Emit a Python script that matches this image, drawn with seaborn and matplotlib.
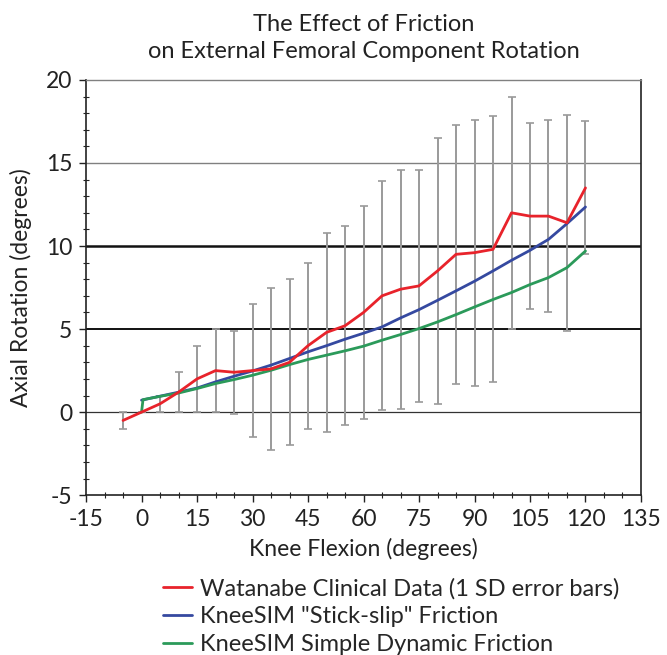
"""Effect of friction on external femoral component rotation (KneeSIM vs clinical)."""

import matplotlib

matplotlib.use("Agg")

import matplotlib.pyplot as plt
import pandas as pd
import seaborn as sns
from matplotlib.ticker import MultipleLocator

# Watanabe clinical data, mean and 1 SD, every 5 degrees of flexion
clinical_flexion = [-5, 0, 5, 10, 15, 20, 25, 30, 35, 40, 45, 50, 55, 60,
                    65, 70, 75, 80, 85, 90, 95, 100, 105, 110, 115, 120]
clinical_rotation = [-0.5, 0.0, 0.5, 1.2, 2.0, 2.5, 2.4, 2.5, 2.6, 3.0, 4.0, 4.8, 5.2, 6.0,
                     7.0, 7.4, 7.6, 8.5, 9.5, 9.6, 9.8, 12.0, 11.8, 11.8, 11.4, 13.5]
clinical_sd = [0.5, 0.0, 0.5, 1.2, 2.0, 2.5, 2.5, 4.0, 4.9, 5.0, 5.0, 6.0, 6.0, 6.4,
               6.9, 7.2, 7.0, 8.0, 7.8, 8.0, 8.0, 7.0, 5.6, 5.8, 6.5, 4.0]

# KneeSIM "stick-slip" friction model
stick_flexion = [0, 5, 10, 15, 20, 25, 30, 35, 40, 45, 50, 55, 60,
                 65, 70, 75, 80, 85, 90, 95, 100, 105, 110, 115, 120]
stick_rotation = [0.72, 0.96, 1.2, 1.45, 1.82, 2.16, 2.48, 2.83, 3.23, 3.63, 4.0, 4.39, 4.75,
                  5.13, 5.67, 6.17, 6.73, 7.3, 7.88, 8.5, 9.14, 9.74, 10.4, 11.35, 12.35]

# KneeSIM simple dynamic friction model
dynamic_flexion = [0, 0.4, 5, 10, 15, 20, 25, 30, 35, 40, 45, 50, 55, 60,
                   65, 70, 75, 80, 85, 90, 95, 100, 105, 110, 115, 120]
dynamic_rotation = [0.0, 0.75, 0.95, 1.15, 1.42, 1.72, 1.96, 2.22, 2.52, 2.86, 3.17, 3.43, 3.69, 3.97,
                    4.33, 4.67, 5.03, 5.43, 5.87, 6.33, 6.78, 7.2, 7.68, 8.1, 8.7, 9.7]

labels = [
    "Watanabe Clinical Data (1 SD error bars)",
    'KneeSIM "Stick-slip" Friction',
    "KneeSIM Simple Dynamic Friction",
]
colors = ["#e8232b", "#3549a0", "#2b9a5a"]

sns.set_theme(style="white")
plt.rcParams["font.family"] = ["Lato", "DejaVu Sans"]
plt.rcParams["axes.unicode_minus"] = False

clinical = pd.DataFrame({"flexion": clinical_flexion, "rotation": clinical_rotation,
                         "sd": clinical_sd})
stick = pd.DataFrame({"flexion": stick_flexion, "rotation": stick_rotation})
dynamic = pd.DataFrame({"flexion": dynamic_flexion, "rotation": dynamic_rotation})

fig = plt.figure(figsize=(6.67, 6.55), dpi=100)
ax = fig.add_axes([0.129, 0.244, 0.832, 0.634])

# reference lines, styled as in the original spreadsheet chart
for level, color, width in [(15, "#808080", 1.0), (10, "#111111", 1.8),
                            (5, "#111111", 1.4), (0, "#333333", 0.9)]:
    ax.axhline(level, color=color, linewidth=width, zorder=1)

ax.errorbar(clinical["flexion"], clinical["rotation"], yerr=clinical["sd"], fmt="none",
            ecolor="#9a9a9a", elinewidth=1.4, capsize=3, capthick=1.2, zorder=2)

sns.lineplot(data=clinical, x="flexion", y="rotation", color=colors[0], linewidth=2.0,
             ax=ax, label=labels[0], zorder=5, sort=False)
sns.lineplot(data=stick, x="flexion", y="rotation", color=colors[1], linewidth=2.0,
             ax=ax, label=labels[1], zorder=3, sort=False)
sns.lineplot(data=dynamic, x="flexion", y="rotation", color=colors[2], linewidth=2.0,
             ax=ax, label=labels[2], zorder=4, sort=False)

ax.set_xlim(-15, 135)
ax.set_ylim(-5, 20)
ax.xaxis.set_major_locator(MultipleLocator(15))
ax.xaxis.set_minor_locator(MultipleLocator(5))
ax.yaxis.set_major_locator(MultipleLocator(5))
ax.yaxis.set_minor_locator(MultipleLocator(1))
ax.tick_params(which="major", direction="out", length=5, width=1.0, color="#222222",
               labelsize=16.5, pad=5, left=True, bottom=True)
ax.tick_params(which="minor", direction="inout", length=5, width=0.8, color="#222222",
               left=True, bottom=True)
ax.tick_params(colors="#222222", which="both")

for side in ["left", "bottom", "right"]:
    ax.spines[side].set_color("#222222")
    ax.spines[side].set_linewidth(1.2)
ax.spines["top"].set_color("#808080")
ax.spines["top"].set_linewidth(1.0)

ax.set_xlabel("Knee Flexion (degrees)", fontsize=16.5, color="#222222", labelpad=6)
ax.set_ylabel("Axial Rotation (degrees)", fontsize=16.5, color="#222222", labelpad=10)
ax.set_title("The Effect of Friction\non External Femoral Component Rotation",
             fontsize=17, color="#222222", pad=16, linespacing=1.35)

handles, names = ax.get_legend_handles_labels()
ax.get_legend().remove()
fig.legend(handles, names, loc="upper left", bbox_to_anchor=(0.245, 0.118),
           frameon=False, fontsize=17, handlelength=1.2, handletextpad=0.35,
           labelspacing=0.3, borderaxespad=0, borderpad=0)

fig.savefig("out.png", dpi=100)
